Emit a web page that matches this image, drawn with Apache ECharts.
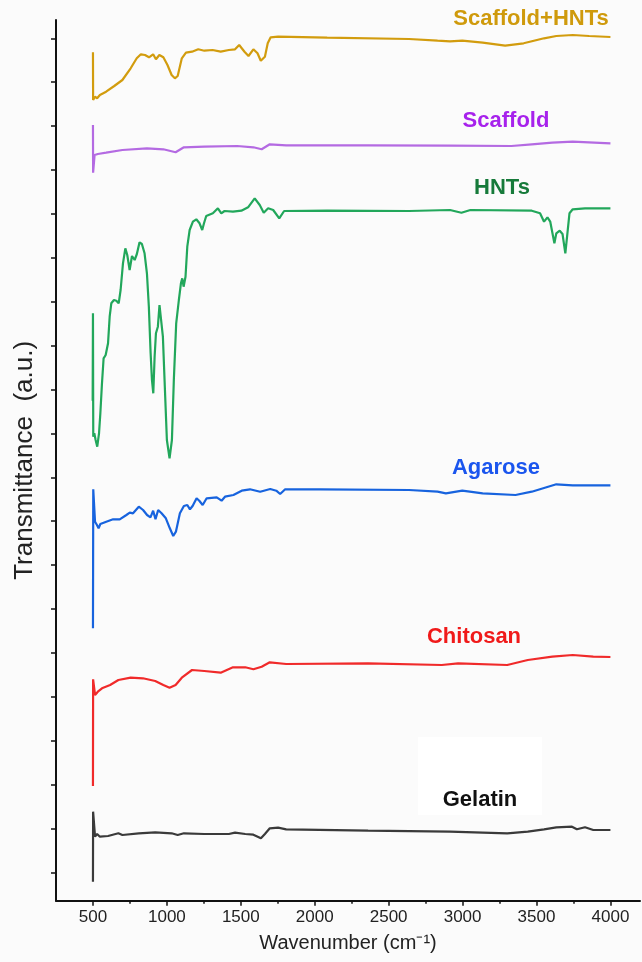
<!DOCTYPE html>
<html>
<head>
<meta charset="utf-8">
<script src="https://cdn.jsdelivr.net/npm/echarts/dist/echarts.min.js"></script>
<style>
  html, body { margin: 0; padding: 0; background: #fafafa; }
  #chart { width: 642px; height: 962px; }
</style>
</head>
<body>
<div id="chart"></div>
<script>
// FTIR spectra, stacked with offsets (a.u.)
const sampleNames = ['Gelatin', 'Chitosan', 'Agarose', 'HNTs', 'Scaffold', 'Scaffold+HNTs'];

const gelatinWn = [500, 501, 514, 528, 547, 602, 672, 699, 810, 921, 1032, 1073, 1115, 1253, 1419, 1461, 1530, 1585, 1636, 1663, 1696, 1752, 1807, 2361, 2915, 3302, 3441, 3551, 3634, 3740, 3773, 3828, 3884, 4000];
const gelatinT = [19, 89, 64, 66.7, 64, 64.7, 67.4, 65.7, 67.4, 68.4, 67.4, 65.7, 67.4, 66.7, 66.7, 68, 66.7, 66, 62.4, 66.7, 72.4, 73, 71.4, 70, 69, 67.4, 69, 71.4, 73.4, 74, 71.4, 73.4, 70.7, 70.7];

const chitosanWn = [500, 501, 514, 533, 561, 616, 672, 755, 838, 921, 976, 1018, 1059, 1101, 1170, 1253, 1364, 1447, 1530, 1585, 1641, 1696, 1807, 2361, 2859, 2970, 3302, 3441, 3607, 3745, 3884, 4000];
const chitosanT = [114.7, 221.4, 205.7, 209, 212.4, 215.7, 220.7, 223, 222.4, 219.7, 215.7, 213, 215.7, 223, 230.7, 229.7, 228, 233.4, 233.4, 231.4, 234, 238.4, 236.7, 237.4, 235.7, 237.4, 235.7, 240.7, 244, 245.7, 244, 243.7];

const agaroseWn = [500, 502, 514, 527, 538, 550, 590, 636, 681, 726, 749, 771, 810, 839, 866, 889, 907, 923, 941, 964, 993, 1020, 1043, 1061, 1088, 1115, 1138, 1156, 1174, 1201, 1219, 1242, 1269, 1337, 1370, 1393, 1450, 1506, 1562, 1631, 1699, 1740, 1766, 1800, 2037, 2638, 2831, 2887, 2998, 3136, 3358, 3468, 3634, 3745, 4000];
const agaroseT = [272.4, 411.4, 379, 375.7, 372.4, 376.7, 379, 381.4, 381.4, 385.7, 388, 387.4, 394, 390.7, 385.7, 383.4, 390, 381.4, 390.7, 387.4, 382.4, 372.4, 364.7, 369, 387.4, 394.7, 395.7, 391.4, 394.7, 402.4, 400, 395.7, 402.4, 403.4, 400, 404, 405.7, 410, 411.4, 409, 411.7, 410, 406.7, 411.4, 411.4, 410.7, 409, 407.4, 410, 407.4, 405.7, 409, 416.4, 415.4, 415.4];

const hntsWn = [498, 500, 502, 509, 518, 529, 541, 550, 561, 572, 586, 602, 613, 624, 642, 658, 674, 687, 703, 719, 732, 748, 764, 782, 797, 815, 831, 849, 865, 878, 890, 899, 908, 917, 926, 939, 950, 959, 973, 986, 1000, 1018, 1034, 1047, 1063, 1081, 1095, 1104, 1113, 1126, 1138, 1154, 1176, 1199, 1221, 1239, 1251, 1266, 1311, 1345, 1368, 1390, 1447, 1504, 1549, 1594, 1628, 1655, 1685, 1719, 1760, 1793, 2084, 2638, 2915, 2992, 3053, 3468, 3524, 3551, 3574, 3593, 3621, 3634, 3657, 3676, 3695, 3709, 3723, 3745, 3828, 4000];
const hntsT = [500, 587.4, 464, 467.4, 460.7, 454, 467.4, 487.4, 517.4, 542.4, 545.7, 557.4, 584, 597.4, 600.7, 600, 597.4, 610.7, 637.4, 652.4, 645.7, 630.7, 644.7, 640.7, 646.7, 658.4, 656.7, 647.4, 627.4, 594, 547.4, 520.7, 507.4, 544, 567.4, 574, 595.7, 594, 564, 514, 460.7, 442.4, 460.7, 520.7, 577.4, 600.7, 617.4, 622.4, 614, 624, 654, 670.7, 679, 681.4, 677.4, 670.7, 677.4, 684.7, 687.4, 692.4, 687.4, 689.7, 689, 690, 693.4, 702.4, 695.7, 688, 692.4, 690.7, 682.4, 689.7, 690, 689.7, 690.7, 688, 690.7, 690, 687.4, 679, 683.4, 679, 657.4, 667.4, 670, 666.7, 647.4, 667.4, 687.4, 691.4, 692.4, 692.4];

const scaffoldWn = [500, 501, 511, 533, 589, 699, 865, 976, 1059, 1115, 1253, 1475, 1585, 1641, 1696, 1807, 2361, 2915, 3330, 3468, 3607, 3745, 4000];
const scaffoldT = [775.7, 728, 745.7, 746.7, 748, 750.7, 752.4, 751.4, 748.4, 753.4, 754, 754.7, 753.4, 751.4, 756.4, 755.4, 755.4, 755, 754.7, 756.4, 758, 759, 757.4];

const scaffoldHntsWn = [500, 501, 514, 528, 547, 589, 644, 699, 755, 796, 824, 852, 879, 907, 926, 949, 976, 1004, 1032, 1054, 1073, 1101, 1129, 1170, 1212, 1253, 1309, 1364, 1419, 1461, 1489, 1525, 1552, 1585, 1613, 1635, 1663, 1682, 1702, 1752, 2084, 2638, 2831, 2915, 2998, 3136, 3288, 3413, 3551, 3634, 3745, 3856, 4000];
const scaffoldHntsT = [848.4, 800.7, 804, 802.4, 805.7, 809, 814.7, 820.7, 832.4, 842.4, 846.4, 845.7, 843.4, 846.4, 841.4, 845.7, 843.4, 835.7, 825.7, 822.4, 824.7, 842.4, 848, 849, 851.4, 850, 850.7, 849, 850.7, 851.4, 855.7, 849, 844.7, 851.4, 847.4, 840, 844, 857.4, 863.4, 864, 863, 861.7, 860, 859.4, 860, 858, 855, 857.4, 862.4, 864.7, 865.7, 864.7, 863.7];

// axis ticks
const xLabelTicks = [500, 1000, 1500, 2000, 2500, 3000, 3500, 4000];
const xMinorTicks = [750, 1250, 1750, 2250, 2750, 3250, 3750];
const yTicks = [28.3, 72.2, 116.1, 160.0, 203.9, 247.8, 291.7, 335.6, 379.5, 423.4, 467.3, 511.2, 555.1, 599.0, 642.9, 686.8, 730.7, 774.6, 818.5, 862.4];

const traces = [
  [gelatinWn, gelatinT],
  [chitosanWn, chitosanT],
  [agaroseWn, agaroseT],
  [hntsWn, hntsT],
  [scaffoldWn, scaffoldT],
  [scaffoldHntsWn, scaffoldHntsT]
];

const lineColors = ['#3a3a3a', '#f02a2a', '#1763de', '#22a75b', '#b46ae2', '#d29c0e'];
const textColors = ['#111111', '#f01a1a', '#1a55ee', '#167a3a', '#a722ec', '#cf9a0c'];
// label centres in px
const labelPos = [[480, 800], [474, 637], [496, 468], [502, 188], [506, 121], [531, 19]];

const zip = (xs, ys) => xs.map((x, i) => [x, ys[i]]);

const myChart = echarts.init(document.getElementById('chart'));

const option = {
  animation: false,
  backgroundColor: '#fbfbfb',
  textStyle: { fontFamily: 'Liberation Sans, Arial, sans-serif' },
  grid: { left: 56, right: 2, top: 20, bottom: 61.3 },
  xAxis: [
    {
      type: 'value',
      min: 250,
      max: 4200,
      name: 'Wavenumber (cm⁻¹)',
      nameLocation: 'middle',
      nameGap: 33,
      nameTextStyle: { fontSize: 20, color: '#222' },
      axisLine: { lineStyle: { color: '#111', width: 2 } },
      axisTick: { customValues: xLabelTicks, length: 5, lineStyle: { color: '#111', width: 1.5 } },
      axisLabel: {
        customValues: xLabelTicks,
        fontSize: 17,
        color: '#222',
        margin: 8,
        formatter: v => String(v)
      },
      splitLine: { show: false }
    },
    {
      type: 'value',
      position: 'bottom',
      min: 250,
      max: 4200,
      axisLine: { show: false },
      axisTick: { customValues: xMinorTicks, length: 3, lineStyle: { color: '#111', width: 1.5 } },
      axisLabel: { show: false },
      splitLine: { show: false }
    }
  ],
  yAxis: {
    type: 'value',
    min: 0,
    max: 880.7,
    name: 'Transmittance  (a.u.)',
    nameLocation: 'middle',
    nameGap: 18,
    nameTextStyle: { fontSize: 26, color: '#222' },
    axisLine: { show: true, lineStyle: { color: '#111', width: 2 } },
    axisTick: { show: true, customValues: yTicks, length: 5, lineStyle: { color: '#111', width: 1.5 } },
    axisLabel: { show: false },
    splitLine: { show: false }
  },
  graphic: [
    {
      type: 'rect',
      z: 0,
      shape: { x: 418, y: 737, width: 124, height: 78 },
      style: { fill: '#ffffff' }
    }
  ].concat(sampleNames.map((name, i) => ({
    type: 'text',
    z: 10,
    style: {
      x: labelPos[i][0],
      y: labelPos[i][1],
      text: name,
      align: 'center',
      verticalAlign: 'middle',
      font: 'bold 22px "Liberation Sans", Arial, sans-serif',
      fill: textColors[i]
    }
  }))),
  series: traces.map((t, i) => ({
    name: sampleNames[i],
    type: 'line',
    xAxisIndex: 0,
    showSymbol: false,
    data: zip(t[0], t[1]),
    lineStyle: { color: lineColors[i], width: 2.2 },
    itemStyle: { color: lineColors[i] },
    z: 3
  }))
};

myChart.setOption(option);
</script>
</body>
</html>
